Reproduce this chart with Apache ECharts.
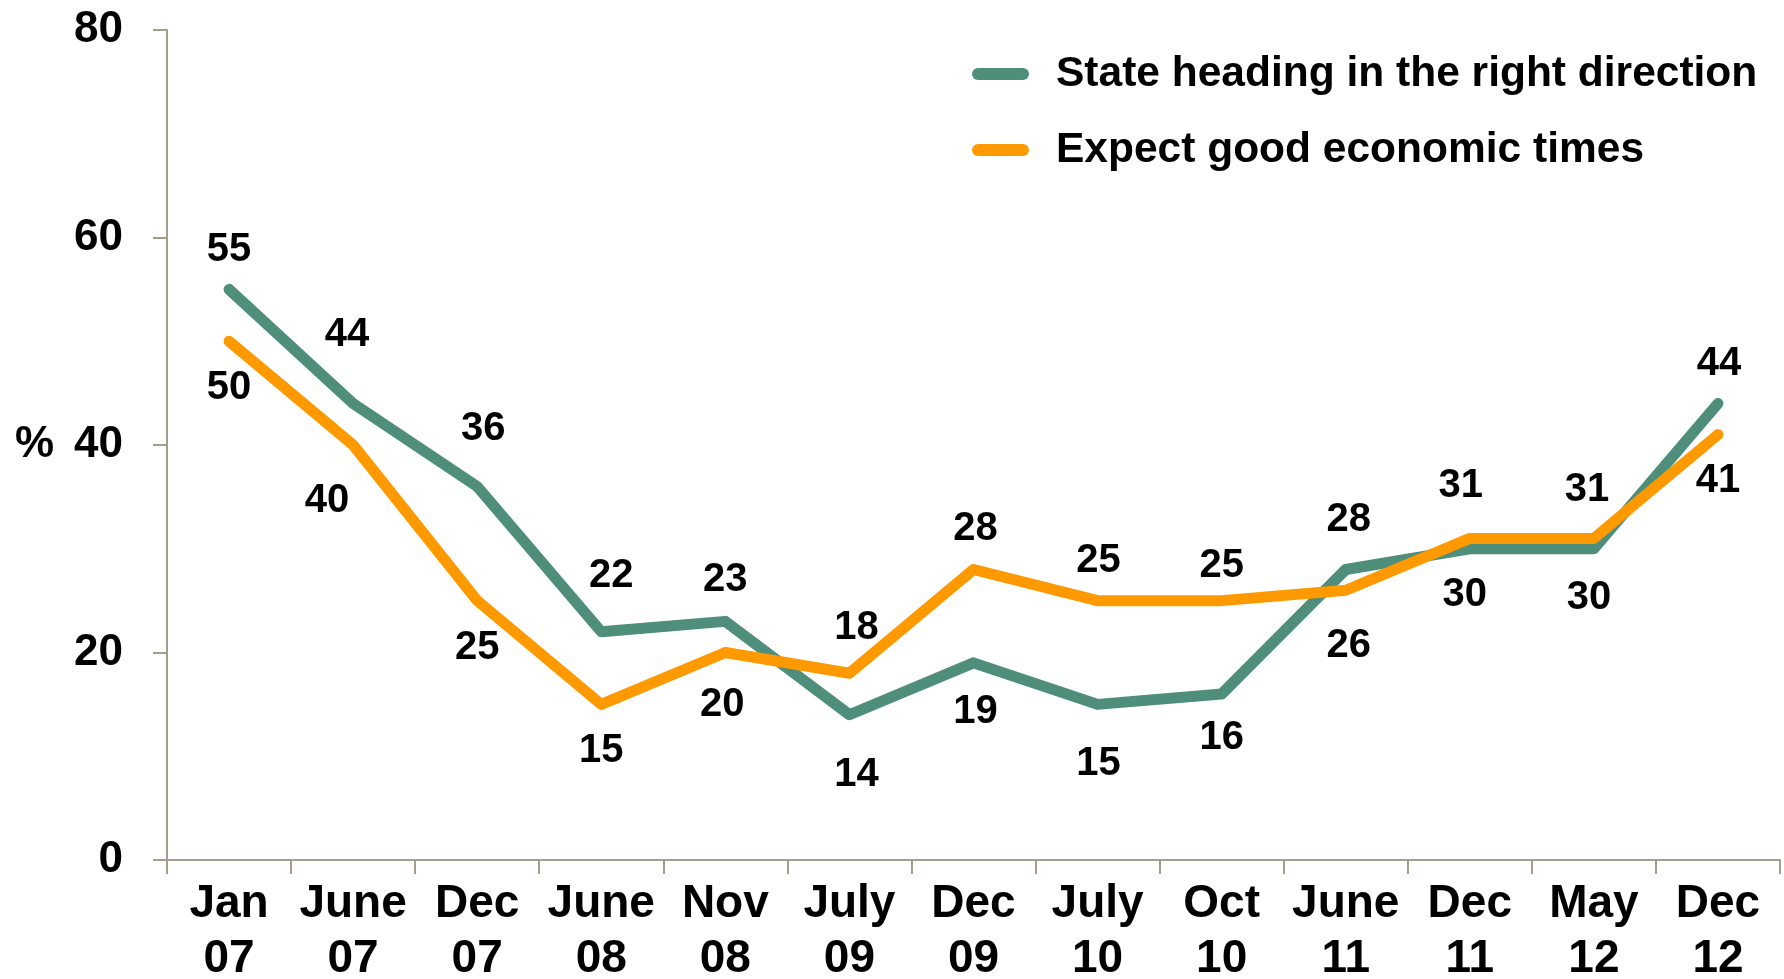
<!DOCTYPE html>
<html style="height: 100%">
<head>
    <meta charset="utf-8">
    <title>State direction and economic expectations</title>
    <script src="https://cdn.jsdelivr.net/npm/echarts@6/dist/echarts.min.js"></script>
</head>
<body style="height: 100%; margin: 0; background: #fff">
    <div id="container" style="width: 1784px; height: 979px"></div>
    <script type="text/javascript">
        // survey dates
        var periods = ['Jan\n07', 'June\n07', 'Dec\n07', 'June\n08', 'Nov\n08', 'July\n09', 'Dec\n09',
            'July\n10', 'Oct\n10', 'June\n11', 'Dec\n11', 'May\n12', 'Dec\n12'];
        // % saying state heading in right direction
        var rightDirection = [55, 44, 36, 22, 23, 14, 19, 15, 16, 28, 30, 30, 44];
        // % expecting good economic times
        var goodTimes = [50, 40, 25, 15, 20, 18, 28, 25, 25, 26, 31, 31, 41];
        var yTicks = [0, 20, 40, 60, 80];

        // where each value label sits relative to its point (px)
        var greenLabelOffsets = [[0, -39], [-6, -69], [6, -58], [10, -56], [0, -41], [7, 60], [2, 49],
            [1, 60], [0, 44], [3, -50], [-5, 46], [-5, 49], [1, -40]];
        var orangeLabelOffsets = [[0, 47], [-26, 56], [0, 47], [0, 47], [-3, 52], [7, -45], [2, -41],
            [1, -40], [0, -35], [3, 56], [-9, -52], [-7, -48], [0, 46]];

        var FONT = '"Liberation Sans", Arial, sans-serif';
        var AXIS_COLOR = '#a69e8d';
        var GREEN = '#4e8e7a';
        var ORANGE = '#ff9900';
        var pill = 'path://M6,0 H51 A6,6 0 0 1 51,12 H6 A6,6 0 0 1 6,0 Z';

        function withLabels(values, offsets) {
            return values.map(function (v, i) {
                return { value: v, label: { offset: offsets[i] } };
            });
        }

        var myChart = echarts.init(document.getElementById('container'));

        var option = {
            animation: false,
            textStyle: { fontFamily: FONT },
            grid: { left: 167, right: 4, top: 30, bottom: 119, outerBoundsMode: 'none', containLabel: false },
            legend: {
                orient: 'vertical',
                left: 967,
                top: 44,
                itemWidth: 57,
                itemHeight: 12,
                itemGap: 26,
                textStyle: {
                    fontFamily: FONT, fontSize: 42.5, fontWeight: 'bold', color: '#000',
                    lineHeight: 50, padding: [0, 0, 0, 22]
                },
                data: [
                    { name: 'State heading in the right direction', icon: pill, itemStyle: { color: GREEN } },
                    { name: 'Expect good economic times', icon: pill, itemStyle: { color: ORANGE } }
                ]
            },
            xAxis: {
                type: 'category',
                data: periods,
                boundaryGap: true,
                axisLine: { lineStyle: { color: AXIS_COLOR, width: 2 } },
                axisTick: { show: true, length: 14, lineStyle: { color: AXIS_COLOR, width: 2 } },
                axisLabel: {
                    interval: 0, margin: 17,
                    fontFamily: FONT, fontSize: 46, fontWeight: 'bold', color: '#000', lineHeight: 55
                }
            },
            yAxis: {
                type: 'value',
                min: yTicks[0],
                max: yTicks[yTicks.length - 1],
                interval: 20,
                name: '%',
                nameLocation: 'middle',
                nameRotate: 0,
                nameGap: 113,
                nameTextStyle: { fontFamily: FONT, fontSize: 44, fontWeight: 'bold', color: '#000', padding: [22, 0, 0, 0] },
                splitLine: { show: false },
                axisLine: { show: true, lineStyle: { color: AXIS_COLOR, width: 2 } },
                axisTick: { show: true, length: 14, lineStyle: { color: AXIS_COLOR, width: 2 } },
                axisLabel: {
                    margin: 44,
                    fontFamily: FONT, fontSize: 44, fontWeight: 'bold', color: '#000'
                }
            },
            series: [
                {
                    name: 'State heading in the right direction',
                    type: 'line',
                    data: withLabels(rightDirection, greenLabelOffsets),
                    symbol: 'circle',
                    symbolSize: 2,
                    itemStyle: { color: GREEN },
                    lineStyle: { color: GREEN, width: 11, cap: 'round', join: 'round' },
                    label: {
                        show: true, position: 'inside',
                        fontFamily: FONT, fontSize: 40, fontWeight: 'bold', color: '#000'
                    },
                    z: 2
                },
                {
                    name: 'Expect good economic times',
                    type: 'line',
                    data: withLabels(goodTimes, orangeLabelOffsets),
                    symbol: 'circle',
                    symbolSize: 2,
                    itemStyle: { color: ORANGE },
                    lineStyle: { color: ORANGE, width: 11, cap: 'round', join: 'round' },
                    label: {
                        show: true, position: 'inside',
                        fontFamily: FONT, fontSize: 40, fontWeight: 'bold', color: '#000'
                    },
                    z: 3
                }
            ]
        };
        myChart.setOption(option);
    </script>
</body>
</html>
